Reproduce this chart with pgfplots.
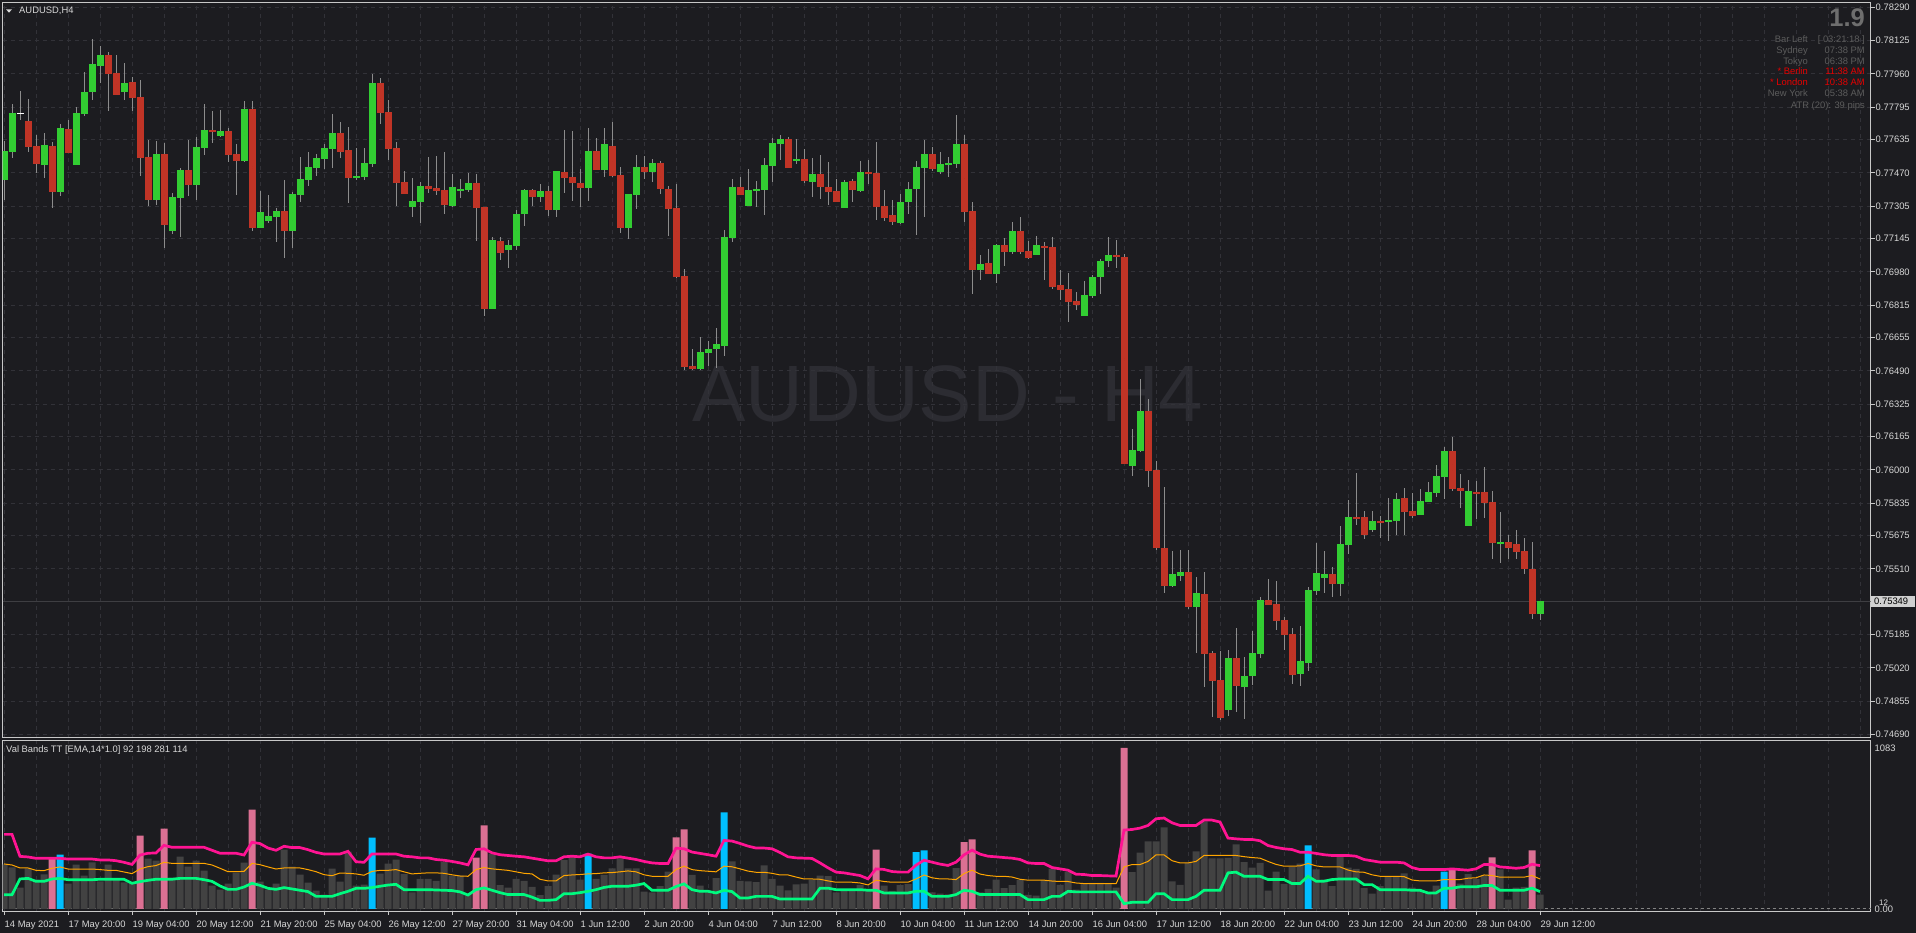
\documentclass[border=0pt]{standalone}
\usepackage{fontspec}
\setmainfont{Liberation Sans}
\usepackage{pgfplots}
\usepackage{pgfplotstable}
\pgfplotsset{compat=1.18}
\definecolor{bg}{RGB}{28,28,32}
\definecolor{gridc}{RGB}{50,50,56}
\definecolor{framec}{RGB}{200,200,200}
\definecolor{labelc}{RGB}{215,215,215}
\definecolor{upc}{RGB}{50,205,50}
\definecolor{dnc}{RGB}{192,52,38}
\definecolor{wickc}{RGB}{140,140,140}
\definecolor{volg}{RGB}{66,66,66}
\definecolor{volp}{RGB}{219,112,147}
\definecolor{volc}{RGB}{0,191,255}
\definecolor{bandu}{RGB}{255,20,147}
\definecolor{bandm}{RGB}{255,165,0}
\definecolor{bandl}{RGB}{0,250,127}
\definecolor{wm}{RGB}{44,44,50}
\definecolor{dimtxt}{RGB}{92,92,92}
\definecolor{bigtxt}{RGB}{110,110,110}
\definecolor{redtxt}{RGB}{230,0,0}
\definecolor{bidc}{RGB}{62,62,66}
\definecolor{basec}{RGB}{130,130,130}
\definecolor{pricebox}{RGB}{208,208,208}
\newcommand\lab{\fontsize{9.4}{11}\selectfont}

\pgfplotstableread{
n o h l c
1 0.77435 0.77628 0.77336 0.77579
2 0.77574 0.77811 0.77544 0.77767
3 0.77765 0.77876 0.77732 0.77765
4 0.77727 0.77836 0.77575 0.77598
5 0.77603 0.77658 0.77470 0.77516
6 0.77511 0.77668 0.77445 0.77608
7 0.77603 0.77623 0.77297 0.77376
8 0.77376 0.77712 0.77356 0.77693
9 0.77688 0.77732 0.77569 0.77569
10 0.77509 0.77797 0.77509 0.77767
11 0.77762 0.77970 0.77752 0.77871
12 0.77871 0.78133 0.77831 0.78010
13 0.78000 0.78099 0.77915 0.78054
14 0.78054 0.78069 0.77777 0.77960
15 0.77965 0.78054 0.77856 0.77856
16 0.77871 0.78014 0.77831 0.77915
17 0.77920 0.77945 0.77777 0.77841
18 0.77846 0.77930 0.77455 0.77544
19 0.77549 0.77633 0.77306 0.77336
20 0.77336 0.77628 0.77311 0.77564
21 0.77564 0.77618 0.77098 0.77212
22 0.77183 0.77371 0.77168 0.77351
23 0.77346 0.77495 0.77153 0.77485
24 0.77485 0.77633 0.77356 0.77410
25 0.77410 0.77648 0.77336 0.77598
26 0.77594 0.77811 0.77559 0.77683
27 0.77683 0.77777 0.77618 0.77673
28 0.77653 0.77782 0.77648 0.77678
29 0.77678 0.77693 0.77524 0.77559
30 0.77564 0.77613 0.77361 0.77529
31 0.77529 0.77826 0.77524 0.77787
32 0.77787 0.77826 0.77183 0.77197
33 0.77197 0.77381 0.77197 0.77277
34 0.77232 0.77361 0.77222 0.77257
35 0.77252 0.77297 0.77128 0.77282
36 0.77282 0.77435 0.77049 0.77183
37 0.77183 0.77376 0.77098 0.77366
38 0.77361 0.77549 0.77326 0.77440
39 0.77435 0.77574 0.77405 0.77500
40 0.77495 0.77564 0.77455 0.77544
41 0.77539 0.77613 0.77490 0.77594
42 0.77589 0.77762 0.77495 0.77668
43 0.77668 0.77722 0.77544 0.77574
44 0.77584 0.77697 0.77321 0.77445
45 0.77445 0.77594 0.77435 0.77455
46 0.77450 0.77594 0.77435 0.77519
47 0.77514 0.77960 0.77499 0.77915
48 0.77915 0.77940 0.77712 0.77767
49 0.77772 0.77831 0.77534 0.77589
50 0.77594 0.77623 0.77306 0.77420
51 0.77425 0.77480 0.77366 0.77366
52 0.77301 0.77445 0.77252 0.77331
53 0.77326 0.77425 0.77222 0.77405
54 0.77405 0.77549 0.77371 0.77390
55 0.77395 0.77554 0.77361 0.77381
56 0.77386 0.77574 0.77267 0.77311
57 0.77306 0.77465 0.77301 0.77400
58 0.77386 0.77440 0.77346 0.77390
59 0.77386 0.77470 0.77376 0.77420
60 0.77420 0.77465 0.77133 0.77296
61 0.77301 0.77301 0.76762 0.76796
62 0.76796 0.77153 0.76796 0.77138
63 0.77133 0.77153 0.77039 0.77074
64 0.77089 0.77138 0.77000 0.77113
65 0.77108 0.77287 0.77089 0.77267
66 0.77267 0.77390 0.77207 0.77386
67 0.77386 0.77390 0.77306 0.77351
68 0.77351 0.77415 0.77326 0.77381
69 0.77381 0.77405 0.77257 0.77287
70 0.77287 0.77480 0.77252 0.77480
71 0.77475 0.77683 0.77371 0.77445
72 0.77450 0.77678 0.77331 0.77420
73 0.77420 0.77490 0.77301 0.77395
74 0.77395 0.77693 0.77331 0.77579
75 0.77579 0.77643 0.77485 0.77485
76 0.77485 0.77693 0.77450 0.77613
77 0.77603 0.77722 0.77450 0.77455
78 0.77460 0.77499 0.77173 0.77197
79 0.77197 0.77366 0.77143 0.77366
80 0.77361 0.77559 0.77291 0.77499
81 0.77499 0.77554 0.77440 0.77475
82 0.77475 0.77539 0.77425 0.77519
83 0.77519 0.77529 0.77366 0.77391
84 0.77391 0.77405 0.77158 0.77292
85 0.77297 0.77415 0.76950 0.76955
86 0.76960 0.76995 0.76494 0.76509
87 0.76514 0.76598 0.76494 0.76499
88 0.76499 0.76658 0.76494 0.76584
89 0.76579 0.76638 0.76514 0.76598
90 0.76598 0.76702 0.76504 0.76623
91 0.76613 0.77188 0.76564 0.77153
92 0.77148 0.77440 0.77128 0.77401
93 0.77401 0.77450 0.77361 0.77361
94 0.77306 0.77490 0.77306 0.77386
95 0.77381 0.77430 0.77301 0.77391
96 0.77386 0.77544 0.77262 0.77509
97 0.77504 0.77643 0.77425 0.77618
98 0.77613 0.77658 0.77534 0.77638
99 0.77638 0.77648 0.77495 0.77495
100 0.77534 0.77638 0.77514 0.77539
101 0.77539 0.77589 0.77420 0.77430
102 0.77425 0.77544 0.77351 0.77465
103 0.77465 0.77559 0.77341 0.77401
104 0.77401 0.77524 0.77311 0.77376
105 0.77381 0.77440 0.77326 0.77326
106 0.77297 0.77435 0.77297 0.77425
107 0.77430 0.77440 0.77326 0.77386
108 0.77381 0.77529 0.77376 0.77475
109 0.77475 0.77534 0.77415 0.77465
110 0.77470 0.77623 0.77237 0.77301
111 0.77306 0.77386 0.77232 0.77247
112 0.77262 0.77336 0.77212 0.77227
113 0.77222 0.77366 0.77217 0.77326
114 0.77326 0.77425 0.77267 0.77391
115 0.77391 0.77529 0.77163 0.77500
116 0.77495 0.77633 0.77252 0.77564
117 0.77564 0.77598 0.77480 0.77490
118 0.77475 0.77574 0.77465 0.77514
119 0.77509 0.77549 0.77450 0.77519
120 0.77514 0.77757 0.77495 0.77613
121 0.77613 0.77658 0.77227 0.77277
122 0.77282 0.77326 0.76871 0.76990
123 0.76990 0.77064 0.76940 0.77019
124 0.77024 0.77094 0.76970 0.76970
125 0.76970 0.77118 0.76925 0.77113
126 0.77113 0.77148 0.77009 0.77079
127 0.77079 0.77227 0.77069 0.77183
128 0.77183 0.77252 0.77069 0.77079
129 0.77084 0.77133 0.77044 0.77049
130 0.77064 0.77158 0.77064 0.77113
131 0.77108 0.77128 0.76940 0.77098
132 0.77103 0.77153 0.76896 0.76905
133 0.76915 0.76990 0.76841 0.76891
134 0.76896 0.76975 0.76732 0.76831
135 0.76836 0.76881 0.76792 0.76816
136 0.76762 0.76935 0.76762 0.76866
137 0.76861 0.76965 0.76851 0.76955
138 0.76955 0.77044 0.76871 0.77034
139 0.77034 0.77153 0.77004 0.77064
140 0.77064 0.77138 0.77000 0.77054
141 0.77054 0.77069 0.76029 0.76029
142 0.76019 0.76202 0.75970 0.76098
143 0.76093 0.76450 0.76088 0.76291
144 0.76291 0.76351 0.75915 0.75994
145 0.75999 0.76044 0.75603 0.75613
146 0.75613 0.75915 0.75390 0.75425
147 0.75425 0.75598 0.75420 0.75484
148 0.75475 0.75603 0.75450 0.75494
149 0.75494 0.75603 0.75311 0.75321
150 0.75321 0.75470 0.75093 0.75390
151 0.75385 0.75494 0.74925 0.75088
152 0.75093 0.75103 0.74777 0.74955
153 0.74960 0.75103 0.74762 0.74772
154 0.74811 0.75108 0.74782 0.75069
155 0.75069 0.75217 0.74801 0.74930
156 0.74925 0.75074 0.74767 0.74980
157 0.74980 0.75202 0.74935 0.75093
158 0.75088 0.75371 0.75069 0.75356
159 0.75356 0.75460 0.75331 0.75331
160 0.75336 0.75450 0.75207 0.75252
161 0.75257 0.75272 0.75108 0.75182
162 0.75187 0.75217 0.74940 0.74984
163 0.74989 0.75227 0.74930 0.75054
164 0.75044 0.75420 0.75004 0.75405
165 0.75400 0.75638 0.75380 0.75489
166 0.75465 0.75598 0.75390 0.75484
167 0.75484 0.75519 0.75371 0.75435
168 0.75435 0.75722 0.75376 0.75633
169 0.75628 0.75851 0.75584 0.75767
170 0.75767 0.75985 0.75727 0.75762
171 0.75767 0.75796 0.75658 0.75678
172 0.75702 0.75796 0.75692 0.75747
173 0.75747 0.75772 0.75663 0.75737
174 0.75742 0.75861 0.75648 0.75752
175 0.75747 0.75886 0.75678 0.75856
176 0.75861 0.75910 0.75678 0.75791
177 0.75796 0.75886 0.75762 0.75772
178 0.75777 0.75905 0.75777 0.75846
179 0.75841 0.75940 0.75841 0.75890
180 0.75885 0.76024 0.75866 0.75970
181 0.75965 0.76113 0.75856 0.76093
182 0.76093 0.76163 0.75895 0.75905
183 0.75910 0.75980 0.75811 0.75895
184 0.75722 0.75950 0.75722 0.75895
185 0.75890 0.75945 0.75757 0.75881
186 0.75890 0.76014 0.75762 0.75836
187 0.75841 0.75895 0.75559 0.75638
188 0.75638 0.75791 0.75539 0.75643
189 0.75643 0.75678 0.75559 0.75613
190 0.75633 0.75702 0.75559 0.75593
191 0.75598 0.75663 0.75484 0.75509
192 0.75509 0.75643 0.75262 0.75286
193 0.75286 0.75351 0.75257 0.75349
}\candles

\pgfplotstableread{
n v t up mid lo
1 300 0 502 303 96
2 280 0 502 296 96
3 144 0 354 276 202
4 274 0 350 276 206
5 197 0 341 260 186
6 233 0 341 258 186
7 336 1 341 274 202
8 366 2 341 283 206
9 170 0 336 269 197
10 298 0 336 269 197
11 224 0 336 269 197
12 314 0 336 269 197
13 186 0 330 265 200
14 298 0 330 260 200
15 202 0 325 260 200
16 179 0 314 249 200
17 175 0 300 238 173
18 493 1 363 269 184
19 339 0 375 285 193
20 325 0 377 292 200
21 541 1 428 314 200
22 211 0 415 307 200
23 352 0 415 307 206
24 285 0 415 307 206
25 325 0 415 307 206
26 258 0 415 307 197
27 157 0 395 296 186
28 130 0 375 274 155
29 170 0 375 251 132
30 244 0 375 251 132
31 312 0 363 253 148
32 668 1 449 307 173
33 184 0 440 298 159
34 130 0 410 283 139
35 170 0 395 269 132
36 399 0 422 276 144
37 285 0 413 276 135
38 231 0 413 276 126
39 177 0 399 265 117
40 123 0 381 251 85
41 96 0 370 231 85
42 271 0 370 224 85
43 184 0 370 242 103
44 386 0 388 240 119
45 157 0 318 236 139
46 164 0 314 227 139
47 480 2 370 253 144
48 238 0 370 260 153
49 305 0 370 260 161
50 332 0 370 265 166
51 234 0 355 250 130
52 112 0 351 236 130
53 202 0 344 240 130
54 202 0 344 243 130
55 189 0 333 243 128
56 315 0 328 240 126
57 225 0 320 230 124
58 225 0 310 222 115
59 101 0 297 220 94
60 346 1 400 265 130
61 562 1 405 279 142
62 373 0 378 270 126
63 160 0 365 265 110
64 144 0 360 260 97
65 202 0 355 250 97
66 189 0 351 240 97
67 148 0 342 236 80
68 94 0 333 200 58
69 153 0 324 189 58
70 232 0 324 189 63
71 328 0 351 225 103
72 355 0 355 229 103
73 198 0 351 232 110
74 373 2 369 236 119
75 202 0 351 238 130
76 230 0 344 243 145
77 274 0 344 245 153
78 340 0 351 250 153
79 274 0 342 256 153
80 274 0 333 250 160
81 117 0 320 230 171
82 112 0 310 220 126
83 153 0 306 220 126
84 252 0 306 220 126
85 481 1 409 265 151
86 535 1 405 288 169
87 230 0 383 265 130
88 158 0 374 258 119
89 112 0 365 254 119
90 207 0 355 250 108
91 650 2 461 288 126
92 320 0 457 284 117
93 189 0 441 270 74
94 185 0 423 255 74
95 180 0 410 247 85
96 293 0 410 247 85
97 202 0 405 240 85
98 158 0 380 229 67
99 126 0 351 229 67
100 165 0 344 215 67
101 171 0 342 202 67
102 198 0 340 202 67
103 225 0 310 200 140
104 221 0 277 189 140
105 112 0 248 180 130
106 122 0 243 180 130
107 135 0 234 180 130
108 162 0 225 175 130
109 135 0 203 162 126
110 400 1 270 194 126
111 158 0 266 185 108
112 122 0 252 180 108
113 160 0 248 180 108
114 167 0 248 180 108
115 383 2 295 202 119
116 394 2 328 229 119
117 112 0 315 210 85
118 104 0 302 202 85
119 99 0 293 202 85
120 275 0 315 198 97
121 450 1 364 238 126
122 468 1 396 261 119
123 112 0 369 235 97
124 135 0 355 225 97
125 198 0 351 220 97
126 140 0 346 220 97
127 160 0 342 215 97
128 194 0 333 200 97
129 95 0 310 194 63
130 90 0 306 194 63
131 194 0 306 194 63
132 272 0 279 188 85
133 162 0 270 185 85
134 252 0 261 185 119
135 131 0 234 175 115
136 171 0 232 171 115
137 176 0 225 171 115
138 176 0 225 171 115
139 171 0 223 171 115
140 144 0 221 170 115
141 1083 1 531 283 36
142 248 0 535 299 45
143 380 0 544 299 45
144 455 0 562 320 45
145 455 0 607 364 103
146 549 0 612 364 103
147 185 0 580 325 63
148 162 0 562 310 63
149 311 0 562 310 63
150 387 0 562 320 85
151 590 0 598 360 126
152 340 0 598 360 126
153 340 0 585 360 126
154 344 0 477 360 243
155 434 0 472 360 248
156 315 0 468 352 220
157 279 0 468 346 220
158 311 0 459 342 220
159 124 0 427 320 198
160 252 0 414 300 198
161 169 0 405 288 198
162 281 0 400 288 171
163 306 0 382 290 171
164 428 2 382 306 220
165 266 0 374 290 187
166 198 0 365 283 187
167 153 0 360 283 198
168 356 0 360 283 202
169 279 0 360 262 202
170 270 0 355 250 202
171 140 0 333 247 164
172 104 0 324 230 164
173 153 0 315 220 130
174 216 0 315 220 130
175 216 0 315 220 130
176 239 0 310 218 130
177 144 0 279 195 126
178 122 0 265 189 126
179 112 0 265 189 108
180 158 0 265 189 108
181 252 2 265 198 140
182 261 1 270 198 140
183 171 0 265 198 149
184 234 0 261 207 149
185 203 0 270 210 149
186 225 0 299 229 158
187 347 1 299 225 158
188 266 0 283 214 126
189 63 0 279 214 126
190 144 0 274 214 126
191 149 0 279 214 126
192 394 1 301 225 140
193 97 0 292 202 117
}\vol

\pgfplotsset{
  candle/.style={only marks, mark=*, mark size=0pt, mark options={draw=none, fill=none},
    error bars/.cd, y dir=both, y explicit, error mark=none},
}

\begin{document}
\begin{tikzpicture}
\fill[bg] (0pt,0pt) rectangle (1916pt,933pt);
% watermark
\node[anchor=base west, inner sep=0pt, text=wm, font=\fontsize{80}{90}\selectfont] at (692pt,511.4pt) {AUDUSD - H4};

% main price panel
\begin{axis}[
  at={(2.5pt,195pt)}, anchor=south west,
  scale only axis, width=1868pt, height=735.5pt,
  xmin=0.8125, xmax=234.3125, ymin=0.746725, ymax=0.783139,
  axis line style={framec, line width=1pt},
  xtick={1,5,...,233}, xticklabels={}, xmajorgrids, xtick style={draw=none},
  ytick={0.78290,0.78125,0.77960,0.77795,0.77635,0.77470,0.77305,0.77145,0.76980,0.76815,0.76655,0.76490,0.76325,0.76165,0.76000,0.75835,0.75675,0.75510,0.75349,0.75185,0.75020,0.74855,0.74690},
  yticklabels={0.78290,0.78125,0.77960,0.77795,0.77635,0.77470,0.77305,0.77145,0.76980,0.76815,0.76655,0.76490,0.76325,0.76165,0.76000,0.75835,0.75675,0.75510,{},0.75185,0.75020,0.74855,0.74690},
  scaled y ticks=false,
  ymajorgrids,
  ytick pos=right, yticklabel pos=right,
  tick align=outside, major tick length=4pt,
  ytick style={framec, line width=1pt},
  yticklabel style={font=\lab, text=labelc, inner xsep=1pt, inner ysep=0pt},
  grid style={gridc, dash pattern=on 4pt off 4pt, line width=1pt},
]
\draw[bidc, line width=1pt] (axis cs:0.8125,0.75349) -- (axis cs:234.3125,0.75349);
% wicks
\addplot[candle, error bar style={wickc, line width=1pt}]
  table[x=n, y expr={(\thisrow{h}+\thisrow{l})/2}, y error expr={(\thisrow{h}-\thisrow{l})/2}] {\candles};
% bull bodies
\addplot[restrict expr to domain={\thisrow{c}-\thisrow{o}}{0.000001:1}, candle, error bar style={upc, line width=7pt}]
  table[x=n, y expr={(\thisrow{o}+\thisrow{c})/2}, y error expr={max(abs(\thisrow{c}-\thisrow{o})/2,0.000025)}] {\candles};
% bear bodies
\addplot[restrict expr to domain={\thisrow{o}-\thisrow{c}}{0.000001:1}, candle, error bar style={dnc, line width=7pt}]
  table[x=n, y expr={(\thisrow{o}+\thisrow{c})/2}, y error expr={max(abs(\thisrow{c}-\thisrow{o})/2,0.000025)}] {\candles};
% doji
\addplot[restrict expr to domain={abs(\thisrow{o}-\thisrow{c})}{-1:0.000001}, candle, error bar style={white, line width=7pt}]
  table[x=n, y expr={(\thisrow{o}+\thisrow{c})/2}, y error expr={0.000012}] {\candles};
\end{axis}

% lower indicator panel
\begin{axis}[
  at={(2.5pt,21pt)}, anchor=south west,
  scale only axis, width=1868pt, height=171pt,
  xmin=0.8125, xmax=234.3125, ymin=-20.2, ymax=1130.1,
  axis line style={framec, line width=1pt},
  xtick={1,9,...,193},
  xticklabels={14 May 2021,17 May 20:00,19 May 04:00,20 May 12:00,21 May 20:00,25 May 04:00,26 May 12:00,27 May 20:00,31 May 04:00,1 Jun 12:00,2 Jun 20:00,4 Jun 04:00,7 Jun 12:00,8 Jun 20:00,10 Jun 04:00,11 Jun 12:00,14 Jun 20:00,16 Jun 04:00,17 Jun 12:00,18 Jun 20:00,22 Jun 04:00,23 Jun 12:00,24 Jun 20:00,28 Jun 04:00,29 Jun 12:00},
  minor xtick={5,13,...,229},
  xmajorgrids, xminorgrids,
  xtick pos=bottom, tick align=outside, major tick length=3pt, minor tick length=0pt,
  xtick style={framec, line width=1pt},
  xticklabel style={font=\lab, text=labelc, anchor=north west, inner sep=0pt, xshift=0.5pt, yshift=-5.5pt},
  ytick={1083}, yticklabels={1083}, ytick pos=right, yticklabel pos=right,
  ytick style={draw=none},
  yticklabel style={font=\lab, text=labelc, inner xsep=1pt, inner ysep=0pt},
  extra y ticks={0}, extra y tick labels={0.00},
  extra y tick style={grid=major, major grid style={basec, dash pattern=on 3pt off 3pt, line width=1pt}},
  scaled y ticks=false,
  grid style={gridc, dash pattern=on 4pt off 4pt, line width=1pt},
]
\addplot[ybar, bar width=7pt, bar shift=0pt, fill=volg, draw=none,
  restrict expr to domain={\thisrow{t}}{-0.5:0.5}] table[x=n, y=v] {\vol};
\addplot[ybar, bar width=7pt, bar shift=0pt, fill=volp, draw=none,
  restrict expr to domain={\thisrow{t}}{0.5:1.5}] table[x=n, y=v] {\vol};
\addplot[ybar, bar width=7pt, bar shift=0pt, fill=volc, draw=none,
  restrict expr to domain={\thisrow{t}}{1.5:2.5}] table[x=n, y=v] {\vol};
\addplot[bandm, line width=1pt, mark=none] table[x=n, y=mid] {\vol};
\addplot[bandl, line width=2.7pt, mark=none] table[x=n, y=lo] {\vol};
\addplot[bandu, line width=2.7pt, mark=none] table[x=n, y=up] {\vol};
\end{axis}

% overlay texts
\begin{scope}[x=1pt, y=1pt]
\fill[labelc] (6,923.7) -- (12,923.7) -- (9,920.3) -- cycle;
\node[anchor=base west, inner sep=0pt, text=labelc, font=\lab] at (19,919.5) {AUDUSD,H4};
\node[anchor=base west, inner sep=0pt, text=labelc, font=\lab] at (6,180.5) {Val Bands TT [EMA,14*1.0] 92 198 281 114};
\node[anchor=base east, inner sep=0pt, text=bigtxt, font=\fontsize{25.5}{28}\selectfont\bfseries] at (1865,906.3) {1.9};
\begin{scope}[every node/.style={inner sep=0pt, font=\lab}]
\node[anchor=base east, text=dimtxt] at (1808,890.7) {Bar Left};
\node[anchor=base east, text=dimtxt] at (1865,890.7) {[ 03:21:18 ]};
\node[anchor=base east, text=dimtxt] at (1808,879.7) {Sydney};
\node[anchor=base east, text=dimtxt] at (1865,879.7) {07:38 PM};
\node[anchor=base east, text=dimtxt] at (1808,868.7) {Tokyo};
\node[anchor=base east, text=dimtxt] at (1865,868.7) {06:38 PM};
\node[anchor=base east, text=redtxt] at (1808,858) {* Berlin};
\node[anchor=base east, text=redtxt] at (1865,858) {11:38 AM};
\node[anchor=base east, text=redtxt] at (1808,847) {* London};
\node[anchor=base east, text=redtxt] at (1865,847) {10:38 AM};
\node[anchor=base east, text=dimtxt] at (1808,836.4) {New York};
\node[anchor=base east, text=dimtxt] at (1865,836.4) {05:38 AM};
\node[anchor=base east, text=dimtxt] at (1865,824.7) {ATR (20): 39 pips};
\end{scope}
% current price box
\fill[pricebox] (1871,326) rectangle (1915,337);
\node[anchor=west, inner sep=0pt, text=black, font=\lab] at (1874,331.5) {0.75349};
\node[anchor=base west, inner sep=0pt, text=labelc, font=\fontsize{8}{9}\selectfont] at (1879,27.5) {12};
\end{scope}
\pgfresetboundingbox
\path[use as bounding box] (0pt,0pt) rectangle (1916pt,933pt);
\end{tikzpicture}
\end{document}
